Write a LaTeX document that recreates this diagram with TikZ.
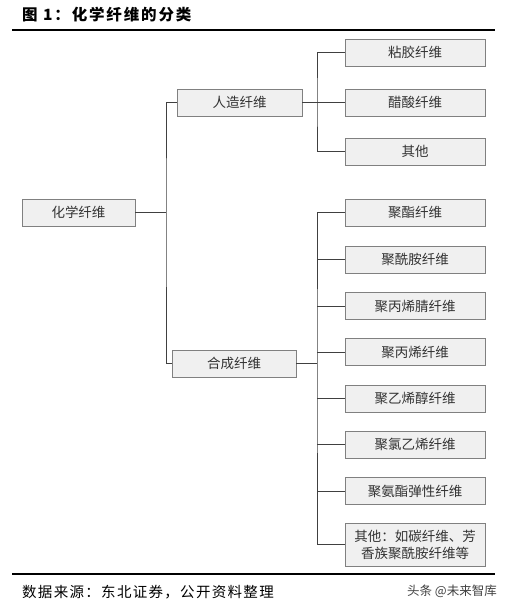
\documentclass[tikz,border=0pt]{standalone}
\usepackage{fontspec}
\setmainfont{Liberation Serif}
\newfontfamily\cjk{Noto Sans CJK SC}
\usetikzlibrary{positioning,calc}
\tikzset{box/.style={draw=black!50,fill=black!6,line width=0.9pt,minimum height=27pt,inner sep=0pt,text=black!80,font=\cjk\fontsize{13.5}{17}\selectfont}}
\tikzset{link/.style={black!75,line width=0.9pt}}
\tikzset{rule/.style={black,line width=1.6pt}}

\begin{document}
\begin{tikzpicture}[x=1pt,y=-1pt]
    \useasboundingbox (0,0) rectangle (509,606);
    \node [anchor=west,inner sep=0pt,font=\cjk\bfseries\fontsize{15.5}{18}\selectfont\addfontfeature{LetterSpace=12}] (title) at (22,15) {图 1：化学纤维的分类};
    \draw [rule] (12,30) -- (495,30);
    \node [box,minimum width=113pt] (root) at (78.5,212.5) {化学纤维};
    \node [box,minimum width=125pt] (rz) at (239.5,102.5) {人造纤维};
    \node [box,minimum width=124pt] (hc) at (234,363.5) {合成纤维};
    \foreach \y/\t [count=\i] in {52.5/粘胶纤维,102.5/醋酸纤维,151.5/其他}
        \node [box,minimum width=140pt] (a\i) at (415,\y) {\t};
    \foreach \y/\t [count=\i] in {212.5/聚酯纤维,259.5/聚酰胺纤维,306/聚丙烯腈纤维,352/聚丙烯纤维,398.5/聚乙烯醇纤维,444.5/聚氯乙烯纤维,491/聚氨酯弹性纤维}
        \node [box,minimum width=140pt] (b\i) at (415,\y) {\t};
    \node [box,minimum width=140pt,minimum height=43pt,align=center] (b8) at (415,544.5) {其他：如碳纤维、芳\\香族聚酰胺纤维等};
    % junctions
    \coordinate (j1) at (166,212.5);
    \coordinate (j2) at (317,102.5);
    \coordinate (j3) at (317,363.5);
    \draw [link] (root.east) -- (j1);
    \draw [link] (rz.west) -| (j1) |- (hc.west);
    \draw [link] (rz.east) -- (j2) -- (a2.west);
    \draw [link] (a1.west) -| (j2) |- (a3.west);
    \draw [link] (hc.east) -- (j3);
    \draw [link] (b1.west) -| (j3) |- (b8.west);
    \foreach \i in {2,...,7}
        \draw [link] (b\i.west) -- (b\i.west -| j3);
    \draw [rule] (12,574) -- (495,574);
    \node [anchor=west,inner sep=0pt,font=\cjk\fontsize{14.5}{17}\selectfont\addfontfeature{LetterSpace=9}] (src) at (22,592) {数据来源：东北证券，公开资料整理};
    \node [anchor=east,inner sep=0pt,text=black!75,font=\cjk\fontsize{12.5}{15}\selectfont] (wm) at (497,591) {头条 @未来智库};
\end{tikzpicture}
\end{document}
